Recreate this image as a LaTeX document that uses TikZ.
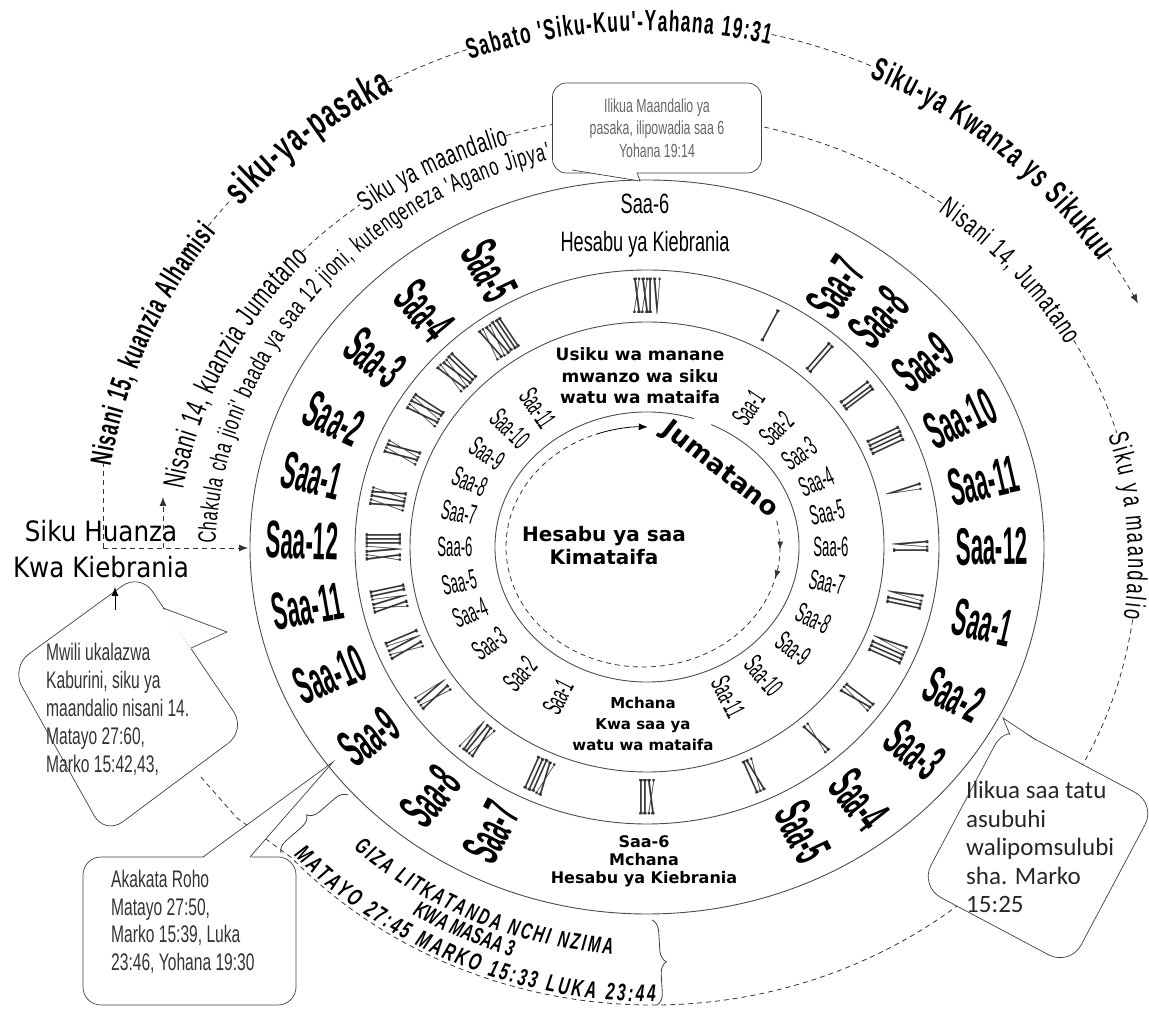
\documentclass[tikz,border=0pt]{standalone}
\usepackage{fontspec}
\usepackage{graphicx}
\usetikzlibrary{calc,arrows.meta,decorations.text,decorations.pathreplacing,decorations.markings}
\newfontfamily\narrowfont[FakeStretch=0.65]{Liberation Sans}
\newfontfamily\archfont[FakeStretch=0.6]{Liberation Sans}
\newfontfamily\plainfont{Liberation Sans}
\newfontfamily\numfont{Liberation Serif}
\newfontfamily\roundfont{DejaVu Sans}
\newfontfamily\labelfont[FakeStretch=0.88]{DejaVu Sans}
\newfontfamily\calfont{Carlito}
\newcommand{\fsz}[2]{\fontsize{#1}{#2}\selectfont}

\tikzset{
  ring/.style={draw=black!70, line width=0.9pt},
  dashpath/.style={draw=black!80, line width=0.8pt, dash pattern=on 5pt off 4pt},
  bigsaa/.style={font=\plainfont\bfseries\fsz{53}{53}, inner sep=0pt, text height=38pt, text depth=0pt},
  minisaa/.style={font=\plainfont\fsz{28}{28}, inner sep=0pt, text height=20pt, text depth=0pt},
  numeral/.style={font=\numfont\bfseries\fsz{54}{54}, inner sep=0pt, text height=36pt, text depth=0pt, text=black!80},
  callout/.style={draw=black!75, fill=white, line width=0.7pt, rounded corners=14pt},
  tail/.style={draw=black!75, line width=0.7pt},
  tip/.style={-{Latex[length=9pt,width=7pt]}},
  curved/.style={decorate, decoration={text along path, text align={fit to path}, text={#1}}},
  e1/.style={x radius=554, y radius=526},
  e2/.style={x radius=485, y radius=445},
  e3/.style={x radius=445, y radius=420},
}

\begin{document}
\begin{tikzpicture}[x=1pt, y=1pt]
\useasboundingbox (0,0) rectangle (1149,1009);
\coordinate (C) at (647,462);   % clock centre
\coordinate (Cs) at (647,458);  % hebrew hour labels
\coordinate (Ci) at (643,462);  % inner ring centre
\coordinate (O) at (647,462);   % outer day arc
\coordinate (E) at (652,449);   % second day arc

% rings
\draw[ring] (C) ellipse [x radius=397, y radius=367];
\draw[ring] (C) ellipse [x radius=292, y radius=277];
\draw[ring] (C) ellipse [x radius=237, y radius=225];
\draw[ring] ($(C)+(72:152 and 135)$) arc[start angle=72, end angle=425, x radius=152, y radius=135];

% hebrew hours
\foreach \a/\n in {57/7,48/8,37/9,25/10,13/11,1/12,-13/1,-27/2,-39/3,-52/4,-63/5}
  \node[bigsaa, rotate=\a] (saaR\n) at ($(Cs)+(\a:345 and 315)$) {\scalebox{0.42}[1]{Saa-\n}};
\foreach \a/\n in {117/5,130/4,142/3,155/2,166/1,178/12,190/11,203/10,216/9,231/8,243/7}
  \node[bigsaa, rotate=\a+180] (saaL\n) at ($(Cs)+(\a:345 and 315)$) {\scalebox{0.42}[1]{Saa-\n}};
\node[font=\narrowfont\fsz{28}{38}, align=center] (top6) at (645,783) {Saa-6\\Hesabu ya Kiebrania};
\node[font=\roundfont\bfseries\fsz{16}{18}, align=center] (bot6) at (644,148) {Saa-6\\Mchana\\Hesabu ya Kiebrania};

% roman numerals
\foreach \t/\r in {0/XXIV,28/I,41/II,53/III,65/IIII,77/V,90/VI,102/VII,114/VIII,127/IX,140/X,156/XI,180/XII,
  204/XIII,220/XIV,234/XV,247/XVI,258/XVII,270/XVIII,281/XIX,292/XX,303/XXI,314/XXII,326/XXIII}
  \node[numeral, rotate=-\t] at ($(C)+(90-\t:264 and 251)$) {\scalebox{0.2}[1]{\r}};

% gentile hours
\foreach \a/\n in {56/1,45/2,34/3,23/4,12/5,0/6,-12/7,-25/8,-37/9,-50/10,-63/11}
  \node[minisaa, rotate=\a] at ($(Ci)+(\a:188 and 168)$) {\scalebox{0.47}[1]{Saa-\n}};
\foreach \a/\n in {124/11,135/10,146/9,157/8,168/7,180/6,192/5,203/4,215/3,229/2,243/1}
  \node[minisaa, rotate=\a+180] at ($(Ci)+(\a:188 and 168)$) {\scalebox{0.47}[1]{Saa-\n}};
\node[font=\roundfont\bfseries\fsz{17}{21.5}, align=center] (usiku) at (640,633) {Usiku wa manane\\mwanzo wa siku\\watu wa mataifa};
\node[font=\roundfont\bfseries\fsz{15}{21}, align=center] (mchana) at (643,285) {Mchana\\Kwa saa ya\\watu wa mataifa};
\node[font=\roundfont\bfseries\fsz{20}{23}, align=center] (kimataifa) at (604,463) {Hesabu ya saa\\Kimataifa};
\node[font=\roundfont\bfseries\fsz{26}{26}, rotate=-38] (jumatano) at (720,539) {Jumatano};

% inner dashed turn
\draw[dashpath, postaction={decorate}, decoration={markings,
  mark=at position 0.05 with {\arrow{Latex[length=8pt,width=6pt]}},
  mark=at position 0.1 with {\arrow{Latex[length=8pt,width=6pt]}}}]
  ($(Ci)+(12.7:137 and 120)$) arc[start angle=12.7, end angle=-250, x radius=137, y radius=120];
\draw[tip, line width=0.8pt] ($(Ci)+(110:137 and 120)$) arc[start angle=110, end angle=88, x radius=137, y radius=120];

% outer day arc
\path[curved={|\archfont\bfseries\fsz{30}{30}|Nisani 15, kuanzia Alhamisi}, decoration={raise=-11pt}]
  ($(O)+(171:554 and 526)$) arc[start angle=171, end angle=142.4, e1];
\draw[dashpath] ($(O)+(142.4:554 and 526)$) arc[start angle=142.4, end angle=138.5, e1];
\path[curved={|\archfont\bfseries\fsz{40}{40}|siku-ya-pasaka}, decoration={raise=-11pt}]
  ($(O)+(138.5:554 and 526)$) arc[start angle=138.5, end angle=117.9, e1];
\draw[dashpath] ($(O)+(117.9:554 and 526)$) arc[start angle=117.9, end angle=109, e1];
\path[curved={|\archfont\bfseries\fsz{29}{29}|Sabato 'Siku-Kuu'-Yahana 19:31}, decoration={raise=-10pt}]
  ($(O)+(109:554 and 526)$) arc[start angle=109, end angle=77, e1];
\draw[dashpath] ($(O)+(77:554 and 526)$) arc[start angle=77, end angle=65.8, e1];
\path[curved={|\archfont\bfseries\fsz{33}{33}|Siku-ya Kwanza ys Sikukuu}, decoration={raise=-11pt}]
  ($(O)+(65.8:554 and 526)$) arc[start angle=65.8, end angle=33.7, e1];
\draw[dashpath, tip] ($(O)+(33.7:554 and 526)$) arc[start angle=33.7, end angle=27.6, e1];

% second day arc
\draw[dashpath] ($(E)+(136.2:485 and 445)$) arc[start angle=136.2, end angle=127, e2];
\draw[dashpath] ($(E)+(107.5:485 and 445)$) arc[start angle=107.5, end angle=53, e2];
\draw[dashpath] ($(E)+(29.6:485 and 445)$) arc[start angle=29.6, end angle=16.6, e2];
\draw[dashpath] ($(E)+(-7.7:485 and 445)$) arc[start angle=-7.7, end angle=-138, e2] -- (237,191) -- (200,233);
\path[curved={|\narrowfont\fsz{30}{30}|Nisani 14, kuanzia Jumatano}, decoration={raise=-10pt}]
  ($(E)+(170.7:485 and 445)$) arc[start angle=170.7, end angle=136.2, e2];
\path[curved={|\narrowfont\fsz{28}{28}|Siku ya maandalio}, decoration={raise=-9pt}]
  ($(E)+(127:485 and 445)$) arc[start angle=127, end angle=107.5, e2];
\path[curved={|\narrowfont\fsz{28}{28}|Nisani 14, Jumatano}, decoration={raise=-9pt}]
  ($(E)+(53:485 and 445)$) arc[start angle=53, end angle=29.6, e2];
\path[curved={|\narrowfont\fsz{28}{28}|Siku ya maandalio}, decoration={raise=-9pt}]
  ($(E)+(16.6:485 and 445)$) arc[start angle=16.6, end angle=-7.7, e2];
\path[curved={|\narrowfont\bfseries\itshape\fsz{24}{24}|MATAYO 27:45 MARKO 15:33 LUKA 23:44}, decoration={raise=3pt}]
  ($(E)+(222:485 and 445)$) arc[start angle=222, end angle=270.4, e2];
\path[curved={|\narrowfont\fsz{25}{25}|Chakula cha jioni' baada ya saa 12 jioni, kutengeneza 'Agano Jipya'}, decoration={raise=-8pt}]
  ($(E)+(177.7:445 and 420)$) arc[start angle=177.7, end angle=103.5, e3];

% darkness
\path[curved={|\narrowfont\bfseries\itshape\fsz{23}{23}|GIZA LITKATANDA NCHI NZIMA}, decoration={raise=-8pt}]
  ($(E)+(226.7:428 and 388)$) arc[start angle=226.7, end angle=264.8, x radius=428, y radius=388];
\path[decorate, decoration={text along path, text align=center, raise=-8pt,
  text={|\narrowfont\bfseries\itshape\fsz{23}{23}|KWA MASAA 3}}]
  ($(E)+(235:446 and 409)$) arc[start angle=235, end angle=255, x radius=446, y radius=409];
\coordinate (brR1) at (652,89);
\coordinate (brR2) at (657,4);
\draw[black!75, line width=0.8pt, decorate, decoration={brace, amplitude=12pt}] (brR1) -- (brR2);
\coordinate (brL1) at (281,156);
\coordinate (brL2) at (348,214);
\draw[black!75, line width=0.8pt, decorate, decoration={brace, amplitude=12pt}] (brL1) -- (brL2);

% start of the hebrew day
\node[font=\labelfont\fsz{28}{36}, align=center, inner sep=0pt] (start) at (101,460) {Siku Huanza\\Kwa Kiebrania};
\coordinate (h0) at (103,461);
\coordinate (h1) at (163,461);
\coordinate (saa12in) at (248,461);
\draw[dashpath] (h0) -- (103,546);
\draw[dashpath, tip] (h1) -- (163,512);
\draw[dashpath, tip] (h0) -- (saa12in);

% callouts
\node[callout, minimum width=209pt, minimum height=90pt, font=\narrowfont\fsz{19}{22.5}, align=center, text=black!60] (topnote) at (657,881) {Ilikua Maandalio ya\\pasaka, ilipowadia saa 6\\Yohana 19:14};
\fill[white] (575,838) -- (640,828) -- (637,838) -- cycle;
\draw[tail] (572,839) -- (640,828) -- (637,836.5);

\draw[callout, rounded corners=22pt] (140,436) -- (246,279) -- (105,174) -- (11,342) -- cycle;
\fill[white] (163,400) -- (227,377) -- (191,360) -- cycle;
\draw[tail] (163,401) -- (227,377) -- (191,361);
\node[font=\narrowfont\fsz{24}{28}, align=left, anchor=north west, inner sep=0pt, text=black!80] (mwili) at (46,366)
  {Mwili ukalazwa\\Kaburini, siku ya\\maandalio nisani 14.\\Matayo 27:60,\\Marko 15:42,43,};
\draw[tip, line width=0.8pt] (115,399) -- (115,422);

\draw[callout, rounded corners=18pt] (83,4) rectangle (296,152);
\fill[white] (203,151) -- (333,247) -- (250,151) -- cycle;
\draw[tail] (203,152) -- (333,247) -- (250,152);
\node[font=\narrowfont\fsz{24}{27.5}, align=left, anchor=north west, inner sep=0pt, text=black!80] (roho) at (111,139)
  {Akakata Roho\\Matayo 27:50,\\Marko 15:39, Luka\\23:46, Yohana 19:30};

\draw[callout, rounded corners=24pt, rotate around={-28:(1038,164)}] (953,72) rectangle (1123,256);
\fill[white] (1010,273) -- (1003,291) -- (1036,268) -- cycle;
\draw[tail] (1010,274) -- (1003,291) -- (1036,269);
\node[font=\calfont\fsz{25}{28.5}, align=left, anchor=north west, inner sep=0pt, text=black!85] (tatu) at (966,228)
  {Ilikua saa tatu\\asubuhi\\walipomsulubi\\sha. Marko\\15:25};
\end{tikzpicture}
\end{document}
